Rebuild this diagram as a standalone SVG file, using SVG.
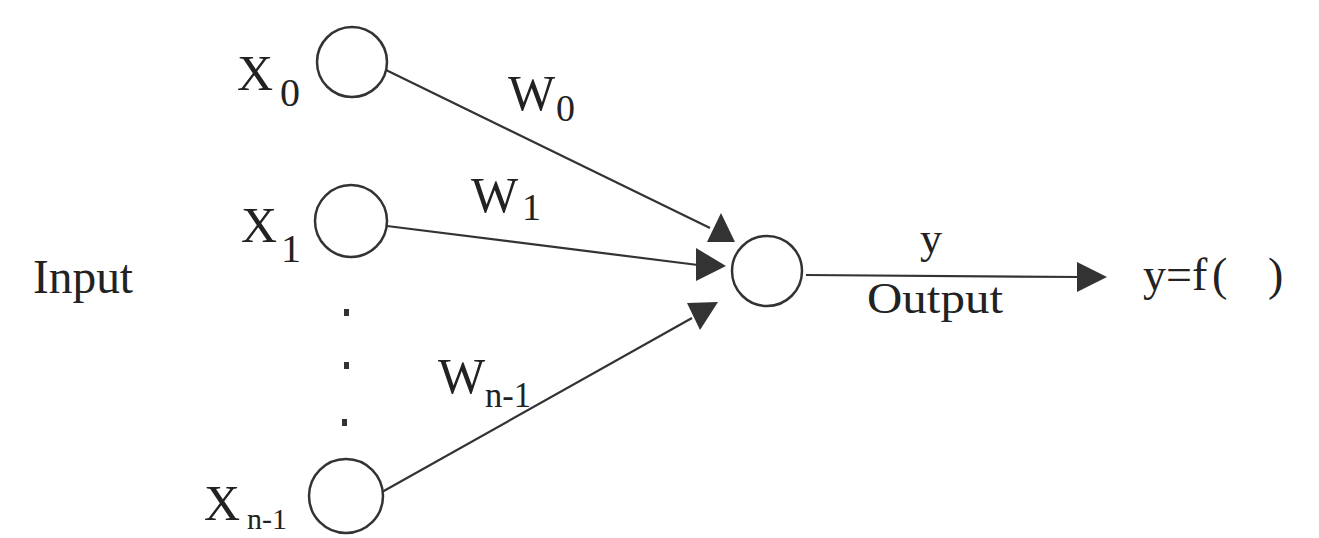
<svg xmlns="http://www.w3.org/2000/svg" width="1319" height="538" viewBox="0 0 1319 538">
<style>
.n{fill:#fff;stroke:#333;stroke-width:2.5}
.t{font-family:"Liberation Serif","Times New Roman",serif;fill:#222}
.l{stroke:#333;stroke-width:2.2;fill:none}
.a{fill:#333}
</style>
<rect width="1319" height="538" fill="#fff"/>
<g id="connectors">
<line class="l" x1="386" y1="70" x2="710" y2="228"/>
<line class="l" x1="387" y1="226" x2="698" y2="265"/>
<line class="l" x1="382" y1="492" x2="692" y2="318"/>
<line class="l" x1="806" y1="275" x2="1080" y2="277"/>
<polygon class="a" points="721,213 707,242 735,242"/>
<polygon class="a" points="696,248 696,281 726,266"/>
<polygon class="a" points="687,303 718,302 700,330"/>
<polygon class="a" points="1077,262 1077,292 1107,277"/>
<text class="t" x="508" y="110" font-size="50">W</text>
<text class="t" x="556" y="121" font-size="38">0</text>
<text class="t" x="471" y="212" font-size="50">W</text>
<text class="t" x="522" y="220" font-size="38">1</text>
<text class="t" x="438" y="393" font-size="50">W</text>
<text class="t" x="485" y="407" font-size="36" textLength="46" lengthAdjust="spacingAndGlyphs">n-1</text>
<text class="t" x="920" y="253" font-size="44">y</text>
<text class="t" x="867" y="313" font-size="44" textLength="136" lengthAdjust="spacingAndGlyphs">Output</text>
</g>
<g id="input-label"><text class="t" x="33" y="293" font-size="48" textLength="100" lengthAdjust="spacingAndGlyphs">Input</text></g>
<g id="x0">
<circle class="n" cx="352" cy="62" r="35"/>
<text class="t" x="237" y="90" font-size="50">X</text>
<text class="t" x="280" y="106" font-size="40">0</text>
</g>
<g id="x1">
<circle class="n" cx="351" cy="221" r="36"/>
<text class="t" x="241" y="242" font-size="50">X</text>
<text class="t" x="281" y="262" font-size="40">1</text>
</g>
<g id="dots">
<rect x="344" y="309" width="5" height="7" fill="#333"/>
<rect x="344" y="362" width="5" height="7" fill="#333"/>
<rect x="342" y="419" width="5" height="7" fill="#333"/>
</g>
<g id="xn1">
<circle class="n" cx="346" cy="496" r="37"/>
<text class="t" x="204" y="520" font-size="50">X</text>
<text class="t" x="247" y="529" font-size="30" textLength="40" lengthAdjust="spacingAndGlyphs">n-1</text>
</g>
<g id="neuron">
<circle class="n" cx="767" cy="271" r="35"/>
</g>
<g id="output-label"><text class="t" y="290" font-size="46"><tspan x="1143">y=f</tspan><tspan x="1212">(</tspan><tspan x="1268">)</tspan></text></g>
</svg>
